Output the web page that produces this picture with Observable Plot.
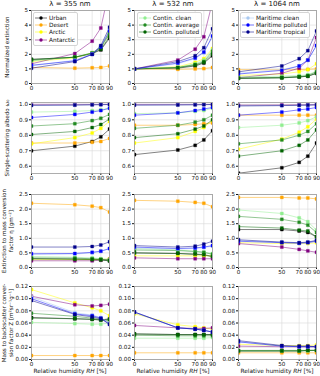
<!DOCTYPE html>
<html><head><meta charset="utf-8">
<script src="https://cdn.jsdelivr.net/npm/d3@7"></script>
<script src="https://cdn.jsdelivr.net/npm/@observablehq/plot@0.6"></script>
<style>
body{margin:0;background:#fff;font-family:"DejaVu Sans",sans-serif;}
#c{position:relative;width:320px;height:376px;overflow:hidden;background:#fff;}
.p{position:absolute;}
.t{position:absolute;white-space:nowrap;color:#111;line-height:1;}
.yl{position:absolute;white-space:nowrap;color:#111;font-size:5.6px;line-height:6.6px;text-align:center;transform:translate(-50%,-50%) rotate(-90deg);}
.lg{position:absolute;background:rgba(255,255,255,0.9);border:1px solid #d4d4d4;border-radius:2px;font-size:5.8px;color:#111;padding:1px 2px 1px 1px;}
.lg div{display:flex;align-items:center;height:7.4px;white-space:nowrap;}
.lg svg{margin-right:2px;}
</style></head><body><div id="c"></div><script>
const rh = [0, 50, 70, 80, 90];
const types = ["Urban","Desert","Arctic","Antarctic","Contin. clean","Contin. average","Contin. polluted","Maritime clean","Maritime polluted","Maritime tropical"];
const colors = ["#000000","#ffa500","#ffff00","#800080","#90ee90","#228b22","#006400","#a8c8f0","#0000ff","#00008b"];
const wavelengths = [355, 532, 1064];

// Normalized extinction
const ext355 = [[1.65,1.8,2.05,2.3,3.1],[1.1,1.05,1.08,1.1,1.2],[1.5,1.75,2.1,2.45,3.5],[1.35,2.05,2.9,3.8,6.5],[1.55,1.8,2.1,2.5,3.5],[1.6,1.8,2.1,2.45,3.4],[1.65,1.8,2.05,2.35,3.2],[1.2,1.6,2.05,2.55,3.7],[1.25,1.55,2.0,2.5,3.6],[1.05,1.5,2.0,2.6,3.85]];
const ext532 = [[1,1.05,1.2,1.4,1.9],[1,0.97,1.0,1.02,1.1],[1,1.15,1.45,1.7,2.4],[1,1.6,2.35,3.2,5.6],[1,1.1,1.35,1.6,2.3],[1,1.1,1.3,1.5,2.2],[1,1.08,1.25,1.45,2.0],[1,1.35,1.7,2.1,3.2],[1,1.4,1.75,2.15,3.25],[1,1.5,1.9,2.45,3.75]];
const ext1064 = [[0.35,0.4,0.45,0.5,0.7],[0.95,0.93,0.95,0.97,1.0],[0.55,0.65,0.8,0.95,1.35],[0.4,0.7,1.05,1.6,3.15],[0.45,0.5,0.55,0.6,0.85],[0.38,0.42,0.48,0.55,0.8],[0.35,0.38,0.45,0.5,0.7],[0.7,0.95,1.2,1.6,2.6],[0.65,0.9,1.2,1.6,2.6],[0.8,1.2,1.7,2.25,3.6]];

// Single-scattering albedo
const ssa355 = [[0.70,0.73,0.76,0.79,0.84],[0.75,0.75,0.755,0.76,0.78],[0.745,0.785,0.815,0.845,0.89],[1.0,1.0,1.0,1.0,1.0],[0.95,0.955,0.96,0.965,0.975],[0.86,0.875,0.895,0.91,0.935],[0.805,0.825,0.85,0.87,0.905],[0.995,0.996,0.997,0.998,0.999],[0.915,0.935,0.95,0.96,0.975],[0.993,0.995,0.997,0.998,0.999]];
const ssa532 = [[0.675,0.705,0.735,0.77,0.83],[0.865,0.865,0.87,0.875,0.88],[0.75,0.785,0.825,0.85,0.895],[1.0,1.0,1.0,1.0,1.0],[0.94,0.945,0.955,0.96,0.975],[0.845,0.865,0.885,0.9,0.93],[0.785,0.81,0.84,0.86,0.9],[0.996,0.997,0.998,0.998,0.999],[0.93,0.945,0.96,0.97,0.98],[0.995,0.996,0.997,0.998,0.999]];
const ssa1064 = [[0.555,0.59,0.625,0.665,0.75],[0.93,0.93,0.93,0.93,0.93],[0.71,0.775,0.82,0.855,0.905],[0.995,0.996,0.997,0.997,0.998],[0.85,0.865,0.88,0.895,0.92],[0.745,0.77,0.8,0.825,0.875],[0.665,0.7,0.735,0.77,0.835],[0.99,0.992,0.994,0.995,0.996],[0.93,0.95,0.965,0.97,0.98],[0.99,0.992,0.994,0.995,0.997]];

// Extinction to mass conversion factor
const eta355 = [[0.3,0.29,0.28,0.27,0.22],[2.2,2.15,2.1,2.05,1.9],[0.27,0.27,0.27,0.27,0.3],[0.23,0.23,0.23,0.25,0.28],[0.38,0.35,0.33,0.3,0.27],[0.33,0.32,0.3,0.28,0.25],[0.3,0.28,0.27,0.26,0.24],[0.45,0.46,0.5,0.55,0.64],[0.47,0.48,0.52,0.56,0.65],[0.7,0.7,0.72,0.77,0.88]];
const eta532 = [[0.5,0.48,0.45,0.43,0.37],[2.3,2.27,2.23,2.2,2.08],[0.4,0.4,0.4,0.4,0.4],[0.33,0.3,0.3,0.3,0.3],[0.65,0.6,0.55,0.52,0.48],[0.6,0.58,0.55,0.52,0.45],[0.5,0.48,0.46,0.44,0.38],[0.67,0.63,0.65,0.68,0.73],[0.7,0.65,0.67,0.7,0.75],[0.75,0.7,0.73,0.8,0.9]];
const eta1064 = [[1.3,1.3,1.25,1.2,1.05],[2.4,2.4,2.38,2.38,2.35],[0.85,0.82,0.82,0.82,0.85],[0.82,0.7,0.62,0.57,0.52],[1.97,1.85,1.7,1.57,1.28],[1.75,1.65,1.55,1.45,1.2],[1.4,1.35,1.28,1.25,1.05],[0.92,0.86,0.84,0.86,0.92],[0.9,0.85,0.83,0.85,0.9],[0.95,0.87,0.85,0.87,0.93]];

// Mass to backscatter conversion factor
const z355 = [[0.069,0.067,0.066,0.065,0.067],[0.0065,0.0065,0.0065,0.0065,0.0065],[0.115,0.093,0.085,0.08,0.072],[0.104,0.09,0.088,0.089,0.091],[0.061,0.059,0.058,0.058,0.06],[0.076,0.071,0.068,0.066,0.063],[0.068,0.067,0.066,0.065,0.066],[0.103,0.077,0.073,0.069,0.06],[0.1,0.075,0.072,0.068,0.058],[0.097,0.074,0.07,0.067,0.058]];
const z532 = [[0.042,0.041,0.041,0.041,0.041],[0.011,0.011,0.011,0.011,0.011],[0.075,0.057,0.054,0.052,0.05],[0.056,0.052,0.051,0.051,0.052],[0.035,0.035,0.035,0.035,0.036],[0.04,0.039,0.039,0.039,0.039],[0.042,0.041,0.041,0.041,0.041],[0.077,0.052,0.05,0.048,0.046],[0.078,0.052,0.05,0.048,0.045],[0.078,0.052,0.05,0.048,0.045]];
const z1064 = [[0.014,0.014,0.014,0.015,0.015],[0.011,0.011,0.011,0.011,0.011],[0.025,0.023,0.023,0.023,0.024],[0.022,0.021,0.021,0.021,0.021],[0.014,0.014,0.014,0.014,0.015],[0.015,0.015,0.015,0.015,0.015],[0.014,0.014,0.014,0.015,0.015],[0.029,0.022,0.021,0.021,0.021],[0.029,0.022,0.021,0.021,0.021],[0.031,0.023,0.022,0.022,0.021]];

const yTicks1 = [0,1,2,3,4,5];
const yTicks2 = [0.6,0.7,0.8,0.9,1.0];
const yTicks3 = [0.0,0.5,1.0,1.5,2.0,2.5];
const yTicks4 = [0.00,0.02,0.04,0.06,0.08,0.10,0.12];

const rows = [
  {sets:[ext355,ext532,ext1064], domain:[0,5], ticks:yTicks1, fmt:d3.format("d"), label:["Normalized extinction"]},
  {sets:[ssa355,ssa532,ssa1064], domain:[0.553,1.012], ticks:yTicks2, fmt:d3.format(".1f"), label:["Single-scattering albedo ω₀"]},
  {sets:[eta355,eta532,eta1064], domain:[0,2.5], ticks:yTicks3, fmt:d3.format(".1f"), label:["Extinction to mass conversion","factor η [gm⁻²]"]},
  {sets:[z355,z532,z1064], domain:[0,0.12], ticks:yTicks4, fmt:d3.format(".2f"), label:["Mass to backscatter conver-","sion factor Z [m²sr⁻¹g⁻¹]"]}
];

const frameLeft = [31, 134, 238], frameW = 78;
const frameTop = [10, 102, 194, 286], frameH = [73, 71, 73, 73];
const mL = 22, mR = 6, mT = 6, mB = 10;
const C = document.getElementById("c");

rows.forEach((row, r) => {
  row.sets.forEach((arr, c) => {
    const data = types.flatMap((t, i) => rh.map((x, j) => ({type: t, rh: x, v: arr[i][j]})));
    const svg = Plot.plot({
      width: frameW + mL + mR, height: frameH[r] + mT + mB,
      marginLeft: mL, marginRight: mR, marginTop: mT, marginBottom: mB,
      style: {fontSize: "5.6px", fontFamily: "DejaVu Sans", background: "transparent", color: "#111", overflow: "visible"},
      x: {domain: [0, 90], ticks: rh, label: null, tickSize: 2, tickPadding: 1, tickFormat: d3.format("d")},
      y: {domain: row.domain, ticks: row.ticks, label: null, tickSize: 2, tickPadding: 1.5, tickFormat: row.fmt},
      color: {domain: types, range: colors},
      marks: [
        Plot.gridX(rh, {stroke: "#d8d8d8", strokeOpacity: 1, strokeWidth: 0.6}),
        Plot.gridY(row.ticks, {stroke: "#d8d8d8", strokeOpacity: 1, strokeWidth: 0.6}),
        Plot.line(data, {x: "rh", y: "v", z: "type", stroke: "type", strokeOpacity: 0.55, strokeWidth: 0.9, clip: true}),
        Plot.dot(data, {x: "rh", y: "v", fill: "type", stroke: "type", strokeWidth: 0.3, symbol: "square", r: 1.7, clip: true}),
        Plot.frame({stroke: "#9a9a9a", strokeWidth: 0.8})
      ]
    });
    svg.classList.add("p");
    svg.style.left = (frameLeft[c] - mL) + "px";
    svg.style.top = (frameTop[r] - mT) + "px";
    C.appendChild(svg);
  });
  // y label
  const yl = document.createElement("div");
  yl.className = "yl";
  yl.innerHTML = row.label.join("<br>");
  yl.style.left = (row.label.length > 1 ? 7.5 : 7) + "px";
  yl.style.top = (frameTop[r] + frameH[r] / 2) + "px";
  C.appendChild(yl);
});

// titles and x labels
wavelengths.forEach((w, c) => {
  const t = document.createElement("div");
  t.className = "t";
  t.style.fontSize = "7px";
  t.textContent = "λ = " + w + " nm";
  t.style.left = (frameLeft[c] + frameW / 2) + "px";
  t.style.top = "1px";
  t.style.transform = "translateX(-50%)";
  C.appendChild(t);
  const xl = document.createElement("div");
  xl.className = "t";
  xl.style.fontSize = "5.8px";
  xl.innerHTML = "Relative humidity <i>RH</i> [%]";
  xl.style.left = (frameLeft[c] + frameW / 2) + "px";
  xl.style.top = "369px";
  xl.style.transform = "translateX(-50%)";
  C.appendChild(xl);
});

// legends
const legendGroups = [[0,1,2,3],[4,5,6],[7,8,9]];
const legendPos = [[33, 12], [137, 12], [240, 12]];
legendGroups.forEach((g, c) => {
  const lg = document.createElement("div");
  lg.className = "lg";
  lg.style.left = legendPos[c][0] + "px";
  lg.style.top = legendPos[c][1] + "px";
  g.forEach(i => {
    const row = document.createElement("div");
    row.innerHTML = `<svg width="12" height="6"><line x1="0" y1="3" x2="12" y2="3" stroke="${colors[i]}" stroke-opacity="0.6" stroke-width="0.9"/><circle cx="6" cy="3" r="1.7" fill="${colors[i]}"/></svg><span>${types[i]}</span>`;
    lg.appendChild(row);
  });
  C.appendChild(lg);
});
</script></body></html>
